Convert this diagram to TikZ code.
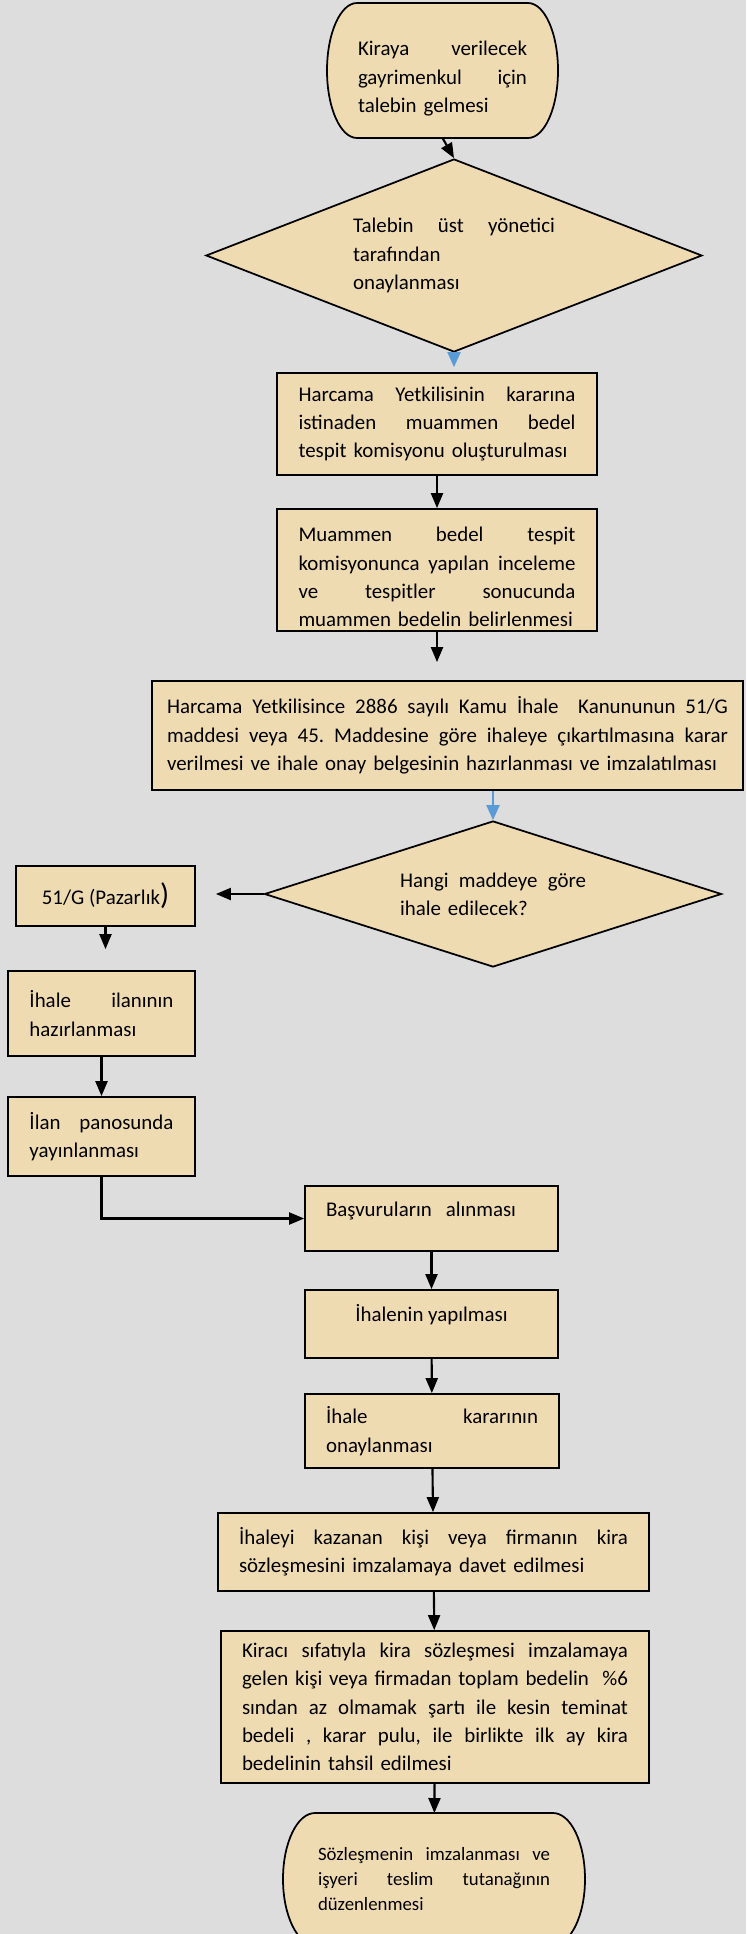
\documentclass[tikz,border=0pt]{standalone}
\usepackage{fontspec}
\setmainfont{Carlito}
\usepackage{tikz}
\usetikzlibrary{positioning, shapes.geometric, arrows.meta, backgrounds}
\definecolor{parch}{RGB}{239,219,177}
\definecolor{paper}{RGB}{221,221,221}
\definecolor{flowblue}{RGB}{91,155,213}
\newcommand{\jline}[1]{\makebox[\hsize][s]{\spaceskip=0pt\xspaceskip=0pt\relax #1}}
\frenchspacing

\begin{document}
\begin{tikzpicture}[
  box/.style={rectangle, draw, line width=1pt, fill=parch, inner sep=0pt, align=left, font=\fontsize{11.9}{16.1}\selectfont},
  ask/.style={diamond, draw, line width=1pt, fill=parch, inner sep=0pt, align=left, font=\fontsize{11.9}{16.1}\selectfont},
  term/.style={rectangle, inner sep=0pt, outer sep=0pt, align=left, font=\fontsize{11.9}{16.1}\selectfont},
  termline/.style={draw, line width=1pt, fill=parch},
  arr/.style={-{Triangle[length=3mm, width=2.4mm]}, line width=1.2pt},
  barr/.style={-{Triangle[length=3mm, width=2.6mm]}, line width=1.2pt, flowblue},
]
  \useasboundingbox (0,0) rectangle (14.92,-38.68);
  \begin{scope}[on background layer]
    \fill[paper] (0,0) rectangle (14.92,-38.68);
  \end{scope}

  \node[term, minimum width=4.62cm, minimum height=2.70cm, text width=3.38cm, text height=0.62cm] (st) at (8.85,-1.41)
    {\jline{Kiraya verilecek}\\ \jline{gayrimenkul için}\\ talebin gelmesi};
  \node[ask, aspect=2.57, minimum width=9.92cm, minimum height=3.86cm, text width=4.04cm] (d1) at (9.08,-5.11)
    {\jline{Talebin üst yönetici}\\ tarafından\\ onaylanması};
  \node[box, minimum width=6.40cm, minimum height=2.04cm, text width=5.54cm] (b2) at (8.74,-8.48)
    {\jline{Harcama Yetkilisinin kararına}\\ \jline{istinaden muammen bedel}\\ tespit komisyonu oluşturulması};
  \node[box, minimum width=6.40cm, minimum height=2.44cm, text width=5.54cm, text height=0.58cm] (b3) at (8.74,-11.40)
    {\jline{Muammen bedel tespit}\\ \jline{komisyonunca yapılan inceleme}\\ \jline{ve tespitler sonucunda}\\ \mbox{muammen bedelin belirlenmesi}};
  \node[box, minimum width=11.82cm, minimum height=2.18cm, text width=11.22cm] (b4) at (8.95,-14.71)
    {\jline{Harcama Yetkilisince 2886 sayılı Kamu İhale~ Kanununun 51/G}\\ \jline{maddesi veya 45. Maddesine göre ihaleye çıkartılmasına karar}\\ verilmesi ve ihale onay belgesinin hazırlanması ve imzalatılması};
  \node[ask, aspect=3.13, minimum width=9.14cm, minimum height=2.92cm, text width=3.72cm] (d2) at (9.86,-17.88)
    {\jline{Hangi maddeye göre}\\ ihale edilecek?};

  \node[box, minimum width=3.58cm, minimum height=1.20cm, align=center] (pz) at (2.11,-17.92)
    {51/G (Pazarlık{\fontsize{17}{17}\selectfont )}};
  \node[box, minimum width=3.74cm, minimum height=1.70cm, text width=2.88cm] (ih) at (2.03,-20.27)
    {\jline{İhale ilanının}\\ hazırlanması};
  \node[box, minimum width=3.74cm, minimum height=1.58cm, text width=2.88cm] (ip) at (2.03,-22.73)
    {\jline{İlan panosunda}\\ yayınlanması};

  \node[box, minimum width=5.06cm, minimum height=1.30cm, text width=4.22cm, text depth=0.36cm] (bv) at (8.63,-24.37)
    {Başvuruların~ alınması};
  \node[box, minimum width=5.06cm, minimum height=1.36cm, align=center, text depth=0.44cm] (iy) at (8.63,-26.48)
    {İhalenin yapılması};
  \node[box, minimum width=5.08cm, minimum height=1.48cm, text width=4.24cm] (ik) at (8.64,-28.62)
    {\jline{İhale kararının}\\ onaylanması};
  \node[box, minimum width=8.62cm, minimum height=1.56cm, text width=7.78cm] (kz) at (8.67,-31.04)
    {\jline{İhaleyi kazanan kişi veya firmanın kira}\\ sözleşmesini imzalamaya davet edilmesi};
  \node[box, minimum width=8.56cm, minimum height=3.04cm, text width=7.72cm] (kc) at (8.70,-34.14)
    {\jline{Kiracı sıfatıyla kira sözleşmesi imzalamaya}\\ \jline{gelen kişi veya firmadan toplam bedelin~ \%6}\\ \jline{sından az olmamak şartı ile kesin teminat}\\ \jline{bedeli , karar pulu, ile birlikte ilk ay kira}\\ bedelinin tahsil edilmesi};
  \node[term, minimum width=6.04cm, minimum height=2.64cm, text width=4.64cm, font=\fontsize{10.7}{14.2}\selectfont] (en) at (8.68,-37.58)
    {\jline{Sözleşmenin imzalanması ve}\\ \jline{işyeri teslim tutanağının}\\ düzenlenmesi};

  % terminator outlines go behind the text
  \begin{scope}[on background layer]
    \path[termline] ([xshift=0.6cm]st.north west) -- ([xshift=-0.6cm]st.north east)
      arc[start angle=90, end angle=-90, x radius=0.6cm, y radius=1.35cm]
      -- ([xshift=0.6cm]st.south west)
      arc[start angle=270, end angle=90, x radius=0.6cm, y radius=1.35cm] -- cycle;
    \path[termline] ([xshift=0.64cm]en.north west) -- ([xshift=-0.64cm]en.north east)
      arc[start angle=90, end angle=-90, x radius=0.64cm, y radius=1.32cm]
      -- ([xshift=0.64cm]en.south west)
      arc[start angle=270, end angle=90, x radius=0.64cm, y radius=1.32cm] -- cycle;
  \end{scope}

  \draw[arr] (st.south) -- (d1.north);
  \draw[barr, shorten >=1mm] (d1.south) -- (d1.south |- b2.north);
  \draw[arr] (b2) -- (b3);
  \draw[arr, shorten >=3.6mm] (b3) -- (b3 |- b4.north);
  \draw[barr] (d2.north |- b4.south) -- (d2.north);
  \draw[arr, shorten >=4mm] (d2.west) -- (d2.west -| pz.east);
  \draw[arr, shorten >=4.2mm] (pz) -- (pz |- ih.north);
  \draw[arr] (ih) -- (ip);
  \draw[arr] (ip) |- (bv);
  \draw[arr] (bv) -- (iy);
  \draw[arr] (iy) -- (ik);
  \draw[arr] (ik) -- (kz);
  \draw[arr] (kz) -- (kc);
  \draw[arr] (kc) -- (en);
\end{tikzpicture}
\end{document}
